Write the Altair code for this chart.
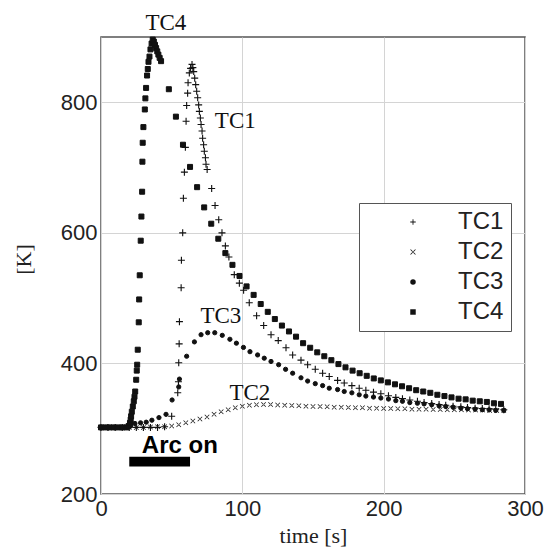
import altair as alt
import pandas as pd

# ---------------- data ----------------
series_names = ["TC1", "TC2", "TC3", "TC4"]

tc1_t = [0, 5, 10, 15, 20, 25, 30, 35, 40, 45, 50, 54.3, 54.8, 55.0, 55.3, 55.5, 56.7, 56.9, 57.8, 58.3,
         59.0, 59.7, 60.2, 60.6, 61.3, 61.6, 62.5, 63.4, 64.4, 65.0, 65.6, 66.3, 67.0, 67.7, 68.4, 69.1,
         69.6, 70.3, 70.8, 71.5, 71.9, 72.6, 73.1, 73.9, 74.3, 75.1, 78.3, 80.7, 83.3, 85.6, 88.0, 90.5,
         94.3, 97.9, 100.9, 104.9, 110.1, 115.1, 120.3, 125.4, 130.9, 135.6, 141.5, 146.2, 151.6, 156.8,
         161.5, 167.4, 172.1, 177.5, 182.7, 187.4, 192.8, 198, 203.4, 208.6, 213.3, 218.5, 223.9, 228.6,
         234, 239.2, 243.9, 249.1, 254.6, 259.3, 264.7, 269.8, 274.6, 279.3, 285]
tc1_k = [302, 302, 302, 302, 302, 302, 302, 302, 302, 303, 319, 355, 372, 401, 430, 464, 516, 558, 600, 653,
         693, 731, 771, 795, 814, 830, 845, 852, 858, 853, 847, 837, 827, 817, 807, 796,
         786, 776, 766, 756, 745, 735, 725, 715, 705, 697, 668, 642, 620, 600, 580, 563,
         536, 523, 512, 493, 473, 458, 444, 435, 424, 413, 405, 398, 391, 385,
         380, 374, 370, 366, 362, 359, 356, 353.6, 350.5, 348, 346, 344, 342, 340,
         338.5, 337, 336, 334.5, 333.5, 332.5, 331.5, 331, 330.5, 330, 329]

tc2_t = [0, 5, 10, 15, 20, 25, 30, 35, 40, 45, 50, 55, 60, 65, 70, 75, 80, 85, 90, 95, 100, 105, 110, 115,
         120, 125, 130, 135, 140, 145, 150, 155, 160, 165, 170, 175, 180, 185, 190, 195, 200, 205, 210,
         215, 220, 225, 230, 235, 240, 245, 250, 255, 260, 265, 270, 275, 280, 285]
tc2_k = [302, 302, 302, 302, 302, 302, 302, 302.5, 303, 303, 304, 306, 309, 312, 315, 318, 322, 326, 329,
         332, 334.5, 336, 336.7, 337, 337, 336.5, 336, 335.5, 335, 334.5, 334, 334, 333.5, 333, 333, 332.5,
         332, 332, 331.5, 331.5, 331, 331, 330.5, 330.5, 330, 330, 330, 329.5, 329.5, 329, 329, 329, 328.5,
         328.5, 328.5, 328, 328, 328]

tc3_t = [0, 3, 6, 9, 12, 15, 18, 21, 24, 28, 32, 36, 41, 46, 50.3, 55, 55.5, 60.6, 66.1, 70.8, 75.5, 80.5,
         85.8, 91.2, 95.8, 100.8, 105.4, 110.8, 115.5, 120.3, 125.7, 130.6, 135.6, 141.5, 146.2, 151.6,
         156.8, 161.5, 167.4, 172.1, 177.5, 182.7, 187.4, 192.8, 198, 203.4, 208.6, 213.3, 218.5, 223.9,
         228.6, 234, 239.2, 243.9, 249.1, 254.6, 259.3, 264.7, 269.8, 274.6, 279.3, 285]
tc3_k = [302, 302, 302, 302, 302, 302, 302, 305, 308, 309, 310, 313, 317, 322, 344, 364, 376, 411, 433, 444,
         447, 447, 443, 437, 431, 424.5, 418, 413, 408, 403, 398, 391, 385, 378, 373, 369,
         366, 362, 360, 357, 355, 352, 350, 348.5, 347, 345.4, 343, 342, 340, 339,
         338, 336.7, 335, 334, 333, 331.6, 330.6, 330, 329, 329, 328, 328]

tc4_t = [0, 3, 6, 9, 12, 15, 18, 19.5, 20.5, 21.0, 21.3, 21.8, 22.5, 23.2, 23.7, 24.2, 24.9, 25.3, 25.6,
         26.0, 26.7, 27.0, 27.4, 28.1, 28.6, 29.1, 29.3, 29.5, 30.0, 31.0, 31.4, 31.9, 32.6, 33.1, 33.6,
         34.3, 35.0, 35.8, 36.6, 37.4, 38.2, 39.0, 39.8, 40.6, 41.5, 42.5,
         48, 53, 58, 63, 68, 73, 78, 83, 88, 93, 98, 103, 108, 113, 118, 123, 128, 133,
         138, 143, 148, 153, 158, 163, 168, 173, 178, 183, 188, 193, 198, 203, 208, 213, 218, 223, 228,
         233, 238, 243, 248, 253, 258, 263, 268, 273, 278, 283]
tc4_k = [302, 302, 302, 302, 302, 302, 302, 304, 309, 314, 319, 326, 334, 342, 349, 357, 375, 389, 398,
         421, 463, 498, 535, 588, 625, 663, 709, 738, 762, 789, 806, 822, 841, 851, 862,
         870, 881, 890, 896, 893, 888, 883, 878, 873, 868, 863,
         820, 778, 735, 701, 670, 639, 614, 591, 569, 551, 534, 518, 505, 491, 479, 468, 458, 449,
         441, 431, 424, 417, 411, 405, 399, 394, 389, 385, 381, 377, 374, 371, 368, 365, 362, 359, 357,
         355, 352, 350, 348, 346, 345, 343, 342, 341, 339, 338]

# annotation labels
ann_text = ["TC4", "TC1", "TC3", "TC2"]
ann_t = [45.9, 95, 84.8, 105.3]
ann_k = [921, 771, 473, 354]

arc_label = ["Arc on"]
arc_label_t = [55.8]
arc_label_k = [274]
arc_start = [20]
arc_end = [63]
arc_k_low = [242]
arc_k_high = [257]

x_ticks = [0, 100, 200, 300]
y_ticks = [200, 400, 600, 800]

# ---------------- build tables ----------------
# thin filled "+" and "x" glyphs (drawn by fill so they also show in the legend)
plus_path = "M-1,-0.16L1,-0.16L1,0.16L-1,0.16Z M-0.16,-1L0.16,-1L0.16,1L-0.16,1Z"
x_path = "M-1,-0.8L-0.8,-1L1,0.8L0.8,1Z M1,-0.8L0.8,-1L-1,0.8L-0.8,1Z"
shape_range = [plus_path, x_path, "circle", "square"]
marker_sizes = [49, 25, 18, 25]
marker_strokes = [0, 0, 1, 1]

ann_df = pd.DataFrame({"label": ann_text, "t": ann_t, "K": ann_k})
arc_df = pd.DataFrame({"label": arc_label, "t": arc_label_t, "K": arc_label_k})
bar_df = pd.DataFrame({"t1": arc_start, "t2": arc_end, "k1": arc_k_low, "k2": arc_k_high})

xscale = alt.Scale(domain=[0, 300], nice=False, zero=False)
yscale = alt.Scale(domain=[200, 900], nice=False, zero=False)

x_enc = alt.X("t:Q", scale=xscale,
              axis=alt.Axis(values=x_ticks, title="time [s]", titleY=41, titleBaseline="middle"))
y_enc = alt.Y("K:Q", scale=yscale,
              axis=alt.Axis(values=y_ticks, title="[K]", titleX=-78, titleY=222,
                            titleAngle=270, titleBaseline="middle", titleAlign="center"))
shape_enc = alt.Shape("series:N",
                      scale=alt.Scale(domain=series_names, range=shape_range),
                      legend=alt.Legend(title=None, orient="none", legendX=258, legendY=166))

layers = []
bar = alt.Chart(bar_df).mark_rect(color="#000").encode(
    x=alt.X("t1:Q", scale=xscale), x2="t2:Q",
    y=alt.Y("k1:Q", scale=yscale), y2="k2:Q")
layers.append(bar)

for name, ts, ks, sz, sw in zip(series_names, [tc1_t, tc2_t, tc3_t, tc4_t],
                                [tc1_k, tc2_k, tc3_k, tc4_k], marker_sizes, marker_strokes):
    d = pd.DataFrame({"series": [name] * len(ts), "t": ts, "K": ks})
    layers.append(
        alt.Chart(d).mark_point(filled=True, color="#111", stroke="#111", strokeWidth=sw,
                                opacity=1, size=sz)
        .encode(x=x_enc, y=y_enc, shape=shape_enc)
    )

ann = alt.Chart(ann_df).mark_text(
    font="Liberation Serif", fontSize=23, color="#111", baseline="middle", align="center"
).encode(x=alt.X("t:Q", scale=xscale), y=alt.Y("K:Q", scale=yscale), text="label:N")
layers.append(ann)

arc_txt = alt.Chart(arc_df).mark_text(
    font="Liberation Sans", fontSize=24, fontWeight="bold", color="#000", baseline="middle", align="center"
).encode(x=alt.X("t:Q", scale=xscale), y=alt.Y("K:Q", scale=yscale), text="label:N")
layers.append(arc_txt)

chart = alt.layer(*layers).properties(
    width=424, height=457,
    autosize=alt.AutoSizeParams(type="none"),
    padding={"left": 93, "top": 29, "right": 19, "bottom": 55},
).configure_view(
    stroke="#555", strokeWidth=1.5
).configure_axis(
    labelFont="Liberation Sans", labelFontSize=22, labelColor="#222",
    titleFont="Liberation Serif", titleFontSize=22, titleColor="#222", titleFontWeight="normal",
    grid=True, gridColor="#d4d4d4", gridWidth=1, ticks=False, domain=False,
    labelPadding=4, labelFlush=False, labelOverlap=False
).configure_legend(
    labelFont="Liberation Sans", labelFontSize=24, labelColor="#222",
    strokeColor="#555", fillColor="white", padding=7,
    symbolOffset=35, labelOffset=33, rowPadding=6, symbolSize=30,
    symbolFillColor="#111", symbolStrokeColor="#111", symbolStrokeWidth=0
)

chart.save("out.html", embed_options={"renderer": "svg", "actions": False})
